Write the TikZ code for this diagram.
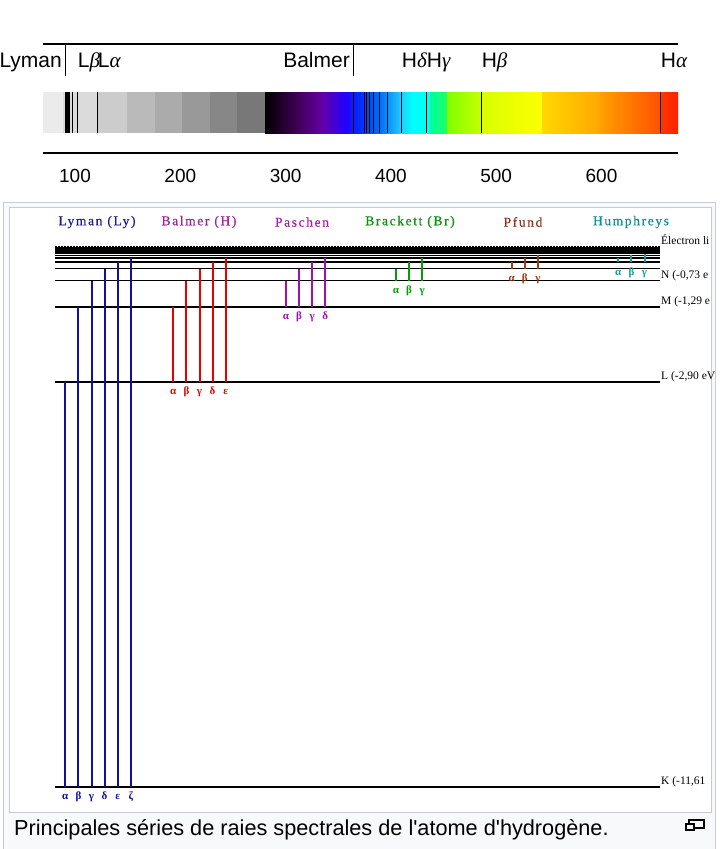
\documentclass[tikz,border=0pt]{standalone}
\usepackage{fontspec}
\setmainfont{Liberation Serif}
\newfontfamily\arialfont{Liberation Sans}
\usetikzlibrary{calc}

\definecolor{framegray}{HTML}{C8CCD1}
\definecolor{capbg}{HTML}{F8F9FA}
\definecolor{lyc}{HTML}{10109A}
\definecolor{bac}{HTML}{E80000}
\definecolor{pac}{HTML}{A010B0}
\definecolor{brc}{HTML}{00A000}
\definecolor{pfc}{HTML}{A03C10}
\definecolor{huc}{HTML}{10A0A0}
\definecolor{lyt}{HTML}{1C1C9C}
\definecolor{bat}{HTML}{A020A0}
\definecolor{pat}{HTML}{A020A0}
\definecolor{brt}{HTML}{109010}
\definecolor{pft}{HTML}{8B3010}
\definecolor{hut}{HTML}{109090}

\tikzset{
  declare function={lev(\n)=247+539.9/(\n*\n); wl(\l)=75+(\l-100)*1.053;},
  bigsans/.style={font=\arialfont\fontsize{21}{24}\selectfont, inner sep=0pt},
  specline/.style={line width=1.2pt},
  levline/.style={line width=1.2pt},
  transline/.style={line width=2pt},
  greek/.style={anchor=base, inner sep=0pt, font=\bfseries\fontsize{11}{12}\selectfont},
  seriestitle/.style={font=\fontsize{13.5}{14}\selectfont\addfontfeatures{LetterSpace=12,FakeBold=0.4}},
  levlabel/.style={anchor=base west, inner sep=0pt, font=\fontsize{11.5}{12}\selectfont},
}

\newcommand\grk[1]{\ifcase#1\or α\or β\or γ\or δ\or ε\or ζ\fi}

\begin{document}
\begin{tikzpicture}[x=1pt,y=-1pt]
\clip (0,0) rectangle (720,849);
\fill[white] (0,0) rectangle (720,849);

% spectrum band
\begin{scope}
\clip (43,92) rectangle (678,133);
\foreach \xa/\xb/\g in {43/63/8, 63/98/14, 98/127/20, 127/155/27, 155/182/33, 182/210/40, 210/237/47, 237/266/53}
  \fill[black!\g] (\xa,92) rectangle (\xb,133);
\foreach \xa/\ca/\xb/\cb in {265/000000/295/3C0050, 295/3C0050/322/6400A8, 322/6400A8/345/2400FF,
    345/2400FF/360/0030FF, 360/0030FF/380/0070FF, 380/0070FF/400/20C8FF, 400/20C8FF/412/00FFFF,
    412/00FFFF/430/00FFEE, 430/00FFA0/447/20FF60, 447/80FF00/482/C8FF00, 482/D8FF00/542/FFFF00,
    542/FFD800/600/FFA800, 600/FFA000/660/FF5000, 660/FF3800/678/FF2000} {
  \definecolor{ca}{HTML}{\ca}\definecolor{cb}{HTML}{\cb}
  \shade[left color=ca, right color=cb] (\xa,92) rectangle (\xb+0.5,133);
}
\foreach \n in {2,...,30}
  \draw[specline] ({wl(91.18/(1-1/(\n*\n)))},92) -- ++(0,41);
\foreach \n in {3,...,12}
  \draw[specline] ({wl(364.6/(1-4/(\n*\n)))},92) -- ++(0,41);
\draw[specline] ({wl(364.6)},92) -- ++(0,41);
\end{scope}

\draw[line width=1.5pt] (43,44) -- (678,44);
\draw[line width=2pt] (43,153) -- (678,153);
\draw[line width=1pt] (65,44) -- (65,76);
\draw[line width=1pt] ({wl(364.6)},44) -- ({wl(364.6)},76);
\node[bigsans, anchor=base east] (lyman) at (62,67) {Lyman};
\node[bigsans, anchor=base west] (lbeta) at ({wl(102.6)},67) {L{\rmfamily\itshape β}};
\node[bigsans, anchor=base west] (lalpha) at ({wl(121.6)},67) {L{\rmfamily\itshape α}};
\node[bigsans, anchor=base east] (balmer) at (350,67) {Balmer};
\node[bigsans, anchor=base west] (hdelta) at ({wl(410.2)},67) {H{\rmfamily\itshape δ}};
\node[bigsans, anchor=base west] (hgamma) at ({wl(434.0)},67) {H{\rmfamily\itshape γ}};
\node[bigsans, anchor=base west] (hbeta) at ({wl(486.1)},67) {H{\rmfamily\itshape β}};
\node[bigsans, anchor=base west] (halpha) at ({wl(656.3)},67) {H{\rmfamily\itshape α}};
\foreach \v in {100,200,...,600}
  \node[font=\arialfont\fontsize{19}{22}\selectfont, anchor=base] (tick\v) at ({wl(\v)},182) {\v};

% figure frame
\draw[framegray, fill=capbg] (3,202) rectangle (715,860);
\draw[framegray, fill=white] (9,207) rectangle (711,812);

% series titles
\node[seriestitle, text=lyt] (tly) at (97,222) {Lyman (Ly)};
\node[seriestitle, text=bat] (tba) at (199,222) {Balmer (H)};
\node[seriestitle, text=pat] (tpa) at (302,222) {Paschen};
\node[seriestitle, text=brt] (tbr) at (410,222) {Brackett (Br)};
\node[seriestitle, text=pft] (tpf) at (523,222) {Pfund};
\node[seriestitle, text=hut] (thu) at (631,222) {Humphreys};

% energy levels
\foreach \n in {1,...,40}
  \draw[levline] (55,{lev(\n)}) -- (660,{lev(\n)});
\draw[line width=1.2pt, dash pattern=on 2pt off 1pt] (55,246.2) -- (660,246.2);

\node[levlabel] (lfree) at (661,244) {Électron li};
\node[levlabel] (lk) at (661,{lev(1)-2}) {K (-11,61};
\node[levlabel] (ll) at (661,{lev(2)-2}) {L (-2,90 eV};
\node[levlabel] (lm) at (661,{lev(3)-2}) {M (-1,29 e};
\node[levlabel] (ln) at (661,{lev(4)-2}) {N (-0,73 e};

% transitions
\foreach \lo/\xs/\col/\top in {1/65.3/lyc/7, 2/173.3/bac/7, 3/286/pac/7, 4/396/brc/7, 5/511.7/pfc/8, 6/618.3/huc/9} {
  \pgfmathtruncatemacro\first{\lo+1}
  \foreach \up in {\first,...,\top} {
    \pgfmathtruncatemacro\k{\up-\lo}
    \coordinate (b\lo\up) at ({\xs+13.1*(\k-1)},{lev(\lo)});
    \coordinate (t\lo\up) at ({\xs+13.1*(\k-1)},{lev(\up)});
    \draw[transline, \col] (b\lo\up) -- (t\lo\up);
    \node[greek, text=\col] (g\lo\up) at ($(b\lo\up)+(0,13)$) {\grk{\k}};
  }
}

% caption
\node[anchor=base west, inner sep=0pt, font=\arialfont\fontsize{21.7}{24}\selectfont] (caption) at (14,835)
  {Principales séries de raies spectrales de l'atome d'hydrogène.};
\draw[line width=1.3pt] (689,820) rectangle (704,828);
\draw[line width=1.3pt, fill=capbg] (686,824) rectangle (694,830);
\end{tikzpicture}
\end{document}
